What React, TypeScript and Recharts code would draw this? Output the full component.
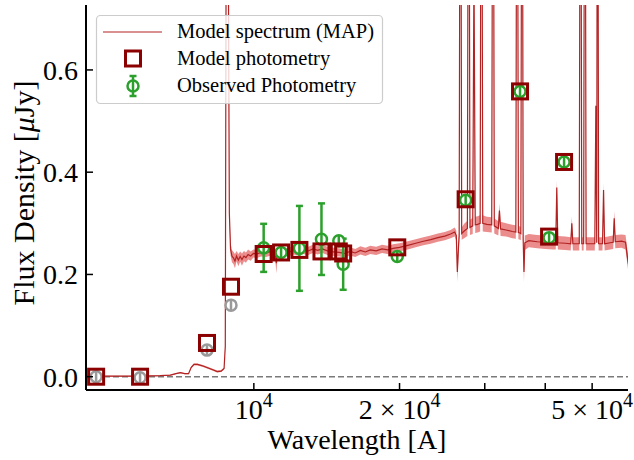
import React from 'react';
import { ComposedChart, Line, Area, Scatter, XAxis, YAxis, ReferenceLine, ErrorBar } from 'recharts';

const FONT = "'Liberation Serif', 'DejaVu Serif', serif";
const TXT: React.CSSProperties = { fontFamily: FONT };

// axis ranges and ticks
const xDomain: [number, number] = [4500, 59300];
const yDomain: [number, number] = [-0.026, 0.727];
const xTicks = [10000, 20000, 30000, 40000, 50000];
const xLabelTicks = [10000, 20000, 50000];
const xLabelMantissa = ['', '2 × ', '5 × '];
const xLabelExponent = ['4', '4', '4'];
const yTicks = [0, 0.2, 0.4, 0.6];
const yTickLabels = ['0.0', '0.2', '0.4', '0.6'];

// model spectrum (MAP): [wavelength A, flux uJy, 1-sigma half width]
const spectrum: [number, number, number][] = [
  [4300, 0.001, 0.001], [5000, 0.001, 0.001], [5800, 0.001, 0.001], [6400, 0.002, 0.001],
  [6720, 0.003, 0.001], [6900, 0.006, 0.001], [7050, 0.008, 0.001], [7200, 0.006, 0.001],
  [7330, 0.006, 0.001], [7420, 0.018, 0.002], [7520, 0.024, 0.002], [7650, 0.024, 0.002],
  [7850, 0.021, 0.002], [8050, 0.017, 0.002], [8250, 0.013, 0.002], [8400, 0.010, 0.002],
  [8560, 0.011, 0.002], [8680, 0.016, 0.002], [8730, 0.06, 0.004], [8790, 1.4, 0.02],
  [8850, 0.9, 0.02], [8900, 0.32, 0.012], [8950, 0.25, 0.012], [9010, 0.236, 0.012],
  [9080, 0.232, 0.012], [9140, 0.226, 0.014], [9210, 0.236, 0.01], [9290, 0.228, 0.012],
  [9370, 0.235, 0.01], [9450, 0.229, 0.012], [9540, 0.236, 0.01], [9630, 0.233, 0.01],
  [9730, 0.239, 0.01], [9850, 0.236, 0.009], [9980, 0.241, 0.008], [10150, 0.24, 0.008],
  [10350, 0.243, 0.008], [10600, 0.242, 0.008], [10850, 0.245, 0.008], [11060, 0.244, 0.008],
  [11130, 0.222, 0.02], [11200, 0.245, 0.008], [11450, 0.246, 0.008], [11750, 0.243, 0.008],
  [12050, 0.247, 0.008], [12350, 0.245, 0.008], [12650, 0.248, 0.008], [12950, 0.246, 0.008],
  [13250, 0.25, 0.008], [13550, 0.247, 0.008], [13850, 0.25, 0.008], [14200, 0.246, 0.008],
  [14600, 0.244, 0.008], [15000, 0.243, 0.008], [15400, 0.241, 0.008], [15800, 0.245, 0.008],
  [16200, 0.242, 0.008], [16600, 0.247, 0.008], [17000, 0.244, 0.008], [17400, 0.248, 0.008],
  [17900, 0.246, 0.008], [18400, 0.25, 0.008], [18900, 0.248, 0.008], [19400, 0.251, 0.008],
  [20000, 0.253, 0.008], [20800, 0.257, 0.008], [21600, 0.261, 0.008], [22400, 0.265, 0.008],
  [23200, 0.268, 0.008], [24000, 0.272, 0.008], [24800, 0.275, 0.008], [25500, 0.279, 0.008],
  [26000, 0.283, 0.009], [26200, 0.276, 0.01], [26330, 0.205, 0.02], [26480, 0.255, 0.015],
  [26560, 0.275, 0.012], [26720, 1.5, 0.02], [26880, 0.28, 0.012], [27200, 0.285, 0.014],
  [27620, 0.29, 0.015], [27790, 1.5, 0.02], [27960, 0.292, 0.015], [28330, 0.295, 0.016],
  [28500, 0.8, 0.02], [28670, 0.297, 0.016], [29000, 0.298, 0.016], [29350, 0.3, 0.016],
  [29530, 1.5, 0.02], [29710, 0.3, 0.016], [30300, 0.298, 0.015], [31010, 0.297, 0.015],
  [31200, 1.5, 0.02], [31390, 0.295, 0.015], [32000, 0.29, 0.014], [32170, 0.325, 0.014],
  [32340, 0.289, 0.014], [33200, 0.287, 0.013], [34200, 0.284, 0.013], [34780, 0.283, 0.013],
  [34990, 1.5, 0.02], [35200, 0.282, 0.013], [35500, 0.281, 0.013], [35620, 0.28, 0.013],
  [35830, 1.5, 0.02], [36010, 0.27, 0.015], [36150, 0.205, 0.02], [36300, 0.262, 0.014],
  [37000, 0.266, 0.013], [38500, 0.264, 0.013], [40000, 0.263, 0.013], [41500, 0.262, 0.013],
  [42050, 0.262, 0.013], [42260, 0.37, 0.014], [42470, 0.262, 0.013], [44000, 0.261, 0.013],
  [45160, 0.26, 0.013], [45390, 0.3, 0.013], [45620, 0.26, 0.013], [46500, 0.26, 0.013],
  [47030, 0.26, 0.013], [47310, 1.5, 0.02], [47590, 0.26, 0.013], [48020, 0.26, 0.013],
  [48300, 1.5, 0.02], [48580, 0.26, 0.013], [50000, 0.26, 0.013], [50640, 0.26, 0.013],
  [50890, 0.53, 0.02], [51100, 0.262, 0.013], [51300, 1.5, 0.02], [51560, 0.26, 0.013],
  [52530, 0.26, 0.013], [52790, 0.365, 0.014], [53050, 0.26, 0.013], [54500, 0.262, 0.013],
  [55260, 0.263, 0.013], [55540, 0.31, 0.014], [55820, 0.264, 0.013], [57500, 0.265, 0.013],
  [58600, 0.263, 0.014], [59300, 0.225, 0.015], [60000, 0.2, 0.015],
];

// model photometry
const modelWave = [4722, 5820, 8002, 8970, 10478, 11384, 12420, 13795, 14980, 15295, 19785, 27390, 35480, 40740, 43750];
const modelFlux = [0.0, 0.0, 0.066, 0.176, 0.240, 0.243, 0.248, 0.245, 0.245, 0.241, 0.253, 0.347, 0.558, 0.274, 0.420];

// observed photometry (used in fit)
const obsWave = [10478, 11384, 12420, 13795, 14980, 15295, 19785, 27390, 35480, 40740, 43750];
const obsFlux = [0.252, 0.243, 0.251, 0.269, 0.266, 0.22, 0.235, 0.345, 0.558, 0.272, 0.420];
const obsErr = [0.047, 0.006, 0.083, 0.07, 0.008, 0.05, 0.007, 0.005, 0.006, 0.006, 0.005];

// observed photometry shown in grey
const greyWave = [4722, 5820, 8002, 8970];
const greyFlux = [0.0, -0.002, 0.052, 0.140];
const greyErr = [0.004, 0.004, 0.004, 0.005];

const specData = spectrum.map(([wave, flux, err]) => ({ wave, flux, band: [flux - err, flux + err] }));
const modelData = modelWave.map((wave, i) => ({ wave, flux: modelFlux[i] }));
const obsData = obsWave.map((wave, i) => ({ wave, flux: obsFlux[i], err: obsErr[i] }));
const greyData = greyWave.map((wave, i) => ({ wave, flux: greyFlux[i], err: greyErr[i] }));

const GREEN = '#2ca02c';
const GREY = '#9a9a9a';
const DARKRED = '#8b0000';
const SPEC = '#b22222';
const BAND = '#e35d5d';

const TICK_LEN = 7;

const XTickBottom = (p: any) => {
  const { x, y, payload } = p;
  const i = xLabelTicks.indexOf(payload.value);
  return (
    <g>
      <line x1={x} x2={x} y1={y} y2={y - TICK_LEN} stroke="#000" strokeWidth={1.5} />
      {i >= 0 && (
        <text x={x} y={y + 29} textAnchor="middle" style={TXT} fontSize={28} fill="#000">
          {xLabelMantissa[i]}10<tspan dy={-12} fontSize={20}>{xLabelExponent[i]}</tspan>
        </text>
      )}
    </g>
  );
};

const XTickTop = (p: any) => {
  const { x, y } = p;
  return <line x1={x} x2={x} y1={y} y2={y + TICK_LEN} stroke="#000" strokeWidth={1.5} />;
};

const YTickLeft = (p: any) => {
  const { x, y, payload } = p;
  const i = yTicks.indexOf(payload.value);
  return (
    <g>
      <line x1={x} x2={x + TICK_LEN} y1={y} y2={y} stroke="#000" strokeWidth={1.5} />
      <text x={x - 8} y={y + 10} textAnchor="end" style={TXT} fontSize={28} fill="#000">
        {i >= 0 ? yTickLabels[i] : ''}
      </text>
    </g>
  );
};

const YTickRight = (p: any) => {
  const { x, y } = p;
  return <line x1={x} x2={x - TICK_LEN} y1={y} y2={y} stroke="#000" strokeWidth={1.5} />;
};

const SquareShape = (p: any) => (
  <rect x={p.cx - 7.5} y={p.cy - 7.5} width={15} height={15} fill="none" stroke={DARKRED} strokeWidth={3} />
);
const circleShape = (color: string) => (p: any) => (
  <g>
    <circle cx={p.cx} cy={p.cy} r={5.5} fill="#fff" stroke={color} strokeWidth={2.5} />
    <line x1={p.cx} x2={p.cx} y1={p.cy - 5.5} y2={p.cy + 5.5} stroke={color} strokeWidth={2.5} />
  </g>
);
const EmptyShape = () => <g />;

export default function App() {
  return (
    <div style={{ position: 'absolute', left: 0, top: 0, width: 634, height: 460, background: '#fff', fontFamily: FONT }}>
      <ComposedChart width={634} height={460} data={specData} margin={{ top: 5, right: 6, bottom: 10, left: 8 }}>
        <XAxis
          dataKey="wave" type="number" scale="log" domain={xDomain} allowDataOverflow
          ticks={xTicks} interval={0} tickSize={0} tickMargin={0} tickLine={false}
          axisLine={{ stroke: '#000', strokeWidth: 2 }} tick={XTickBottom} height={60}
        />
        <XAxis
          xAxisId="top" orientation="top" dataKey="wave" type="number" scale="log" domain={xDomain} allowDataOverflow
          ticks={xTicks} interval={0} tickSize={0} tickMargin={0} tickLine={false}
          axisLine={{ stroke: '#000', strokeWidth: 2 }} tick={XTickTop} height={0}
        />
        <YAxis
          type="number" domain={yDomain} allowDataOverflow ticks={yTicks} interval={0}
          tickSize={0} tickMargin={0} tickLine={false} axisLine={{ stroke: '#000', strokeWidth: 2 }}
          tick={YTickLeft} width={78}
        />
        <YAxis
          yAxisId="right" orientation="right" type="number" domain={yDomain} allowDataOverflow ticks={yTicks}
          interval={0} tickSize={0} tickMargin={0} tickLine={false} axisLine={{ stroke: '#000', strokeWidth: 2 }}
          tick={YTickRight} width={0}
        />
        <ReferenceLine y={0} stroke="#7a7a7a" strokeWidth={1.4} strokeDasharray="6 3" ifOverflow="hidden" />
        <Area dataKey="band" type="linear" stroke="none" fill={BAND} fillOpacity={0.7} isAnimationActive={false} />
        <Line dataKey="flux" type="linear" stroke={SPEC} strokeWidth={1.2} dot={false} isAnimationActive={false} />
        <Scatter data={greyData} dataKey="flux" shape={circleShape(GREY)} isAnimationActive={false} />
        <Scatter data={greyData} dataKey="flux" shape={EmptyShape} isAnimationActive={false}>
          <ErrorBar dataKey="err" direction="y" width={3.5} stroke={GREY} strokeWidth={2.5} />
        </Scatter>
        <Scatter data={obsData} dataKey="flux" shape={circleShape(GREEN)} isAnimationActive={false} />
        <Scatter data={obsData} dataKey="flux" shape={EmptyShape} isAnimationActive={false}>
          <ErrorBar dataKey="err" direction="y" width={3.5} stroke={GREEN} strokeWidth={2.5} />
        </Scatter>
        <Scatter data={modelData} dataKey="flux" shape={SquareShape} isAnimationActive={false} />
      </ComposedChart>
      <svg width={634} height={460} style={{ position: 'absolute', left: 0, top: 0, pointerEvents: 'none' }}>
        <text x={357} y={449} textAnchor="middle" style={TXT} fontSize={28} fill="#000">Wavelength [A]</text>
        <text transform="translate(34, 193) rotate(-90)" textAnchor="middle" style={TXT} fontSize={30} fill="#000">
          Flux Density [<tspan fontStyle="italic">μ</tspan>Jy]
        </text>
        <rect x={96.5} y={15.5} width={286} height={88} rx={4} fill="#fff" fillOpacity={0.8} stroke="#cccccc" strokeWidth={1.2} />
        <line x1={103} x2={162} y1={32} y2={32} stroke={SPEC} strokeWidth={1.2} />
        <rect x={125.5} y={51} width={15} height={15} fill="none" stroke={DARKRED} strokeWidth={3} />
        <circle cx={133} cy={86} r={5.5} fill="#fff" stroke={GREEN} strokeWidth={2.5} />
        <line x1={133} x2={133} y1={76} y2={96} stroke={GREEN} strokeWidth={2.5} />
        <line x1={129.5} x2={136.5} y1={76} y2={76} stroke={GREEN} strokeWidth={2.5} />
        <line x1={129.5} x2={136.5} y1={96} y2={96} stroke={GREEN} strokeWidth={2.5} />
        <text x={177} y={38} style={TXT} fontSize={20.5} fill="#000">Model spectrum (MAP)</text>
        <text x={177} y={65} style={TXT} fontSize={20.5} fill="#000">Model photometry</text>
        <text x={177} y={92} style={TXT} fontSize={20.5} fill="#000">Observed Photometry</text>
      </svg>
    </div>
  );
}
